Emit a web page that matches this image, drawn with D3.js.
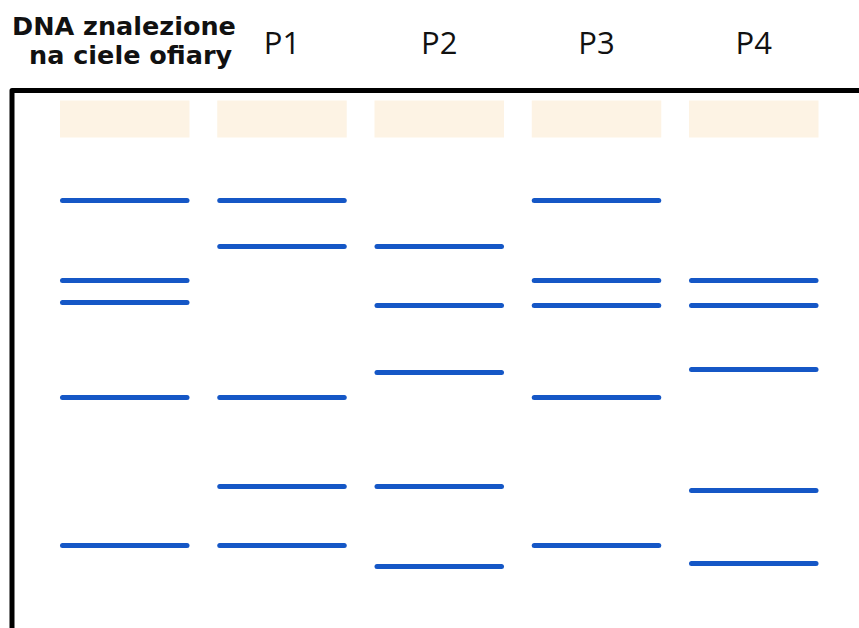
<!DOCTYPE html>
<html>
<head>
<meta charset="utf-8">
<script src="https://cdn.jsdelivr.net/npm/d3@7"></script>
<style>
  html, body { margin: 0; padding: 0; background: #ffffff; }
  svg { display: block; }
</style>
</head>
<body>
<svg id="chart" width="859" height="628"></svg>
<script>
// ---- data ----
const lanes = ["ofiara", "P1", "P2", "P3", "P4"];
const laneLabels = [["DNA znalezione", "na ciele ofiary"], ["P1"], ["P2"], ["P3"], ["P4"]];
// migration distance of each band from the top edge of the gel (arbitrary units)
const bandsOfiara = [110, 190, 212, 307, 455];
const bandsP1 = [110, 156, 307, 396, 455];
const bandsP2 = [156, 215, 282, 396, 476];
const bandsP3 = [110, 190, 215, 307, 455];
const bandsP4 = [190, 215, 279, 400, 473];
const bandsByLane = [bandsOfiara, bandsP1, bandsP2, bandsP3, bandsP4];

// ---- layout ----
const W = 859, H = 628;
const gelTop = 90.5, gelLeft = 12;
const svg = d3.select("#chart");

const x = d3.scaleBand().domain(lanes).range([60, 818.5]).paddingInner(0.1765).paddingOuter(0);
const y = d3.scaleLinear().domain([0, 538]).range([gelTop, gelTop + 538]);

// gel frame (open to the right and bottom, running off the canvas)
svg.append("path")
  .attr("d", `M${gelLeft},${H + 10} L${gelLeft},${gelTop} L${W + 10},${gelTop}`)
  .attr("fill", "none")
  .attr("stroke", "#000")
  .attr("stroke-width", 5)
  .attr("stroke-linejoin", "round");

// wells
svg.selectAll("rect.well")
  .data(lanes)
  .join("rect")
  .attr("class", "well")
  .attr("x", d => x(d))
  .attr("y", y(10))
  .attr("width", x.bandwidth())
  .attr("height", y(47) - y(10))
  .attr("fill", "#fdf3e4");

// bands
const bandData = lanes.flatMap((l, i) => bandsByLane[i].map(v => ({ lane: l, v })));
svg.selectAll("line.band")
  .data(bandData)
  .join("line")
  .attr("class", "band")
  .attr("x1", d => x(d.lane) + 2.5)
  .attr("x2", d => x(d.lane) + x.bandwidth() - 2.5)
  .attr("y1", d => y(d.v))
  .attr("y2", d => y(d.v))
  .attr("stroke", "#1557c6")
  .attr("stroke-width", 5)
  .attr("stroke-linecap", "round");

// lane labels
// first lane: two bold lines
svg.append("text")
  .attr("x", 12).attr("y", 35)
  .attr("font-family", "DejaVu Sans")
  .attr("font-weight", "bold")
  .attr("font-size", 25.5)
  .attr("fill", "#111")
  .text(laneLabels[0][0]);
svg.append("text")
  .attr("x", 29).attr("y", 64)
  .attr("font-family", "DejaVu Sans")
  .attr("font-weight", "bold")
  .attr("font-size", 25.5)
  .attr("fill", "#111")
  .text(laneLabels[0][1]);

svg.selectAll("text.pl")
  .data(lanes.slice(1))
  .join("text")
  .attr("class", "pl")
  .attr("x", d => x(d) + x.bandwidth() / 2)
  .attr("y", 53.5)
  .attr("text-anchor", "middle")
  .attr("font-family", "Open Sans")
  .attr("font-size", 31)
  .attr("fill", "#111")
  .text((d, i) => laneLabels[i + 1][0]);
</script>
</body>
</html>
